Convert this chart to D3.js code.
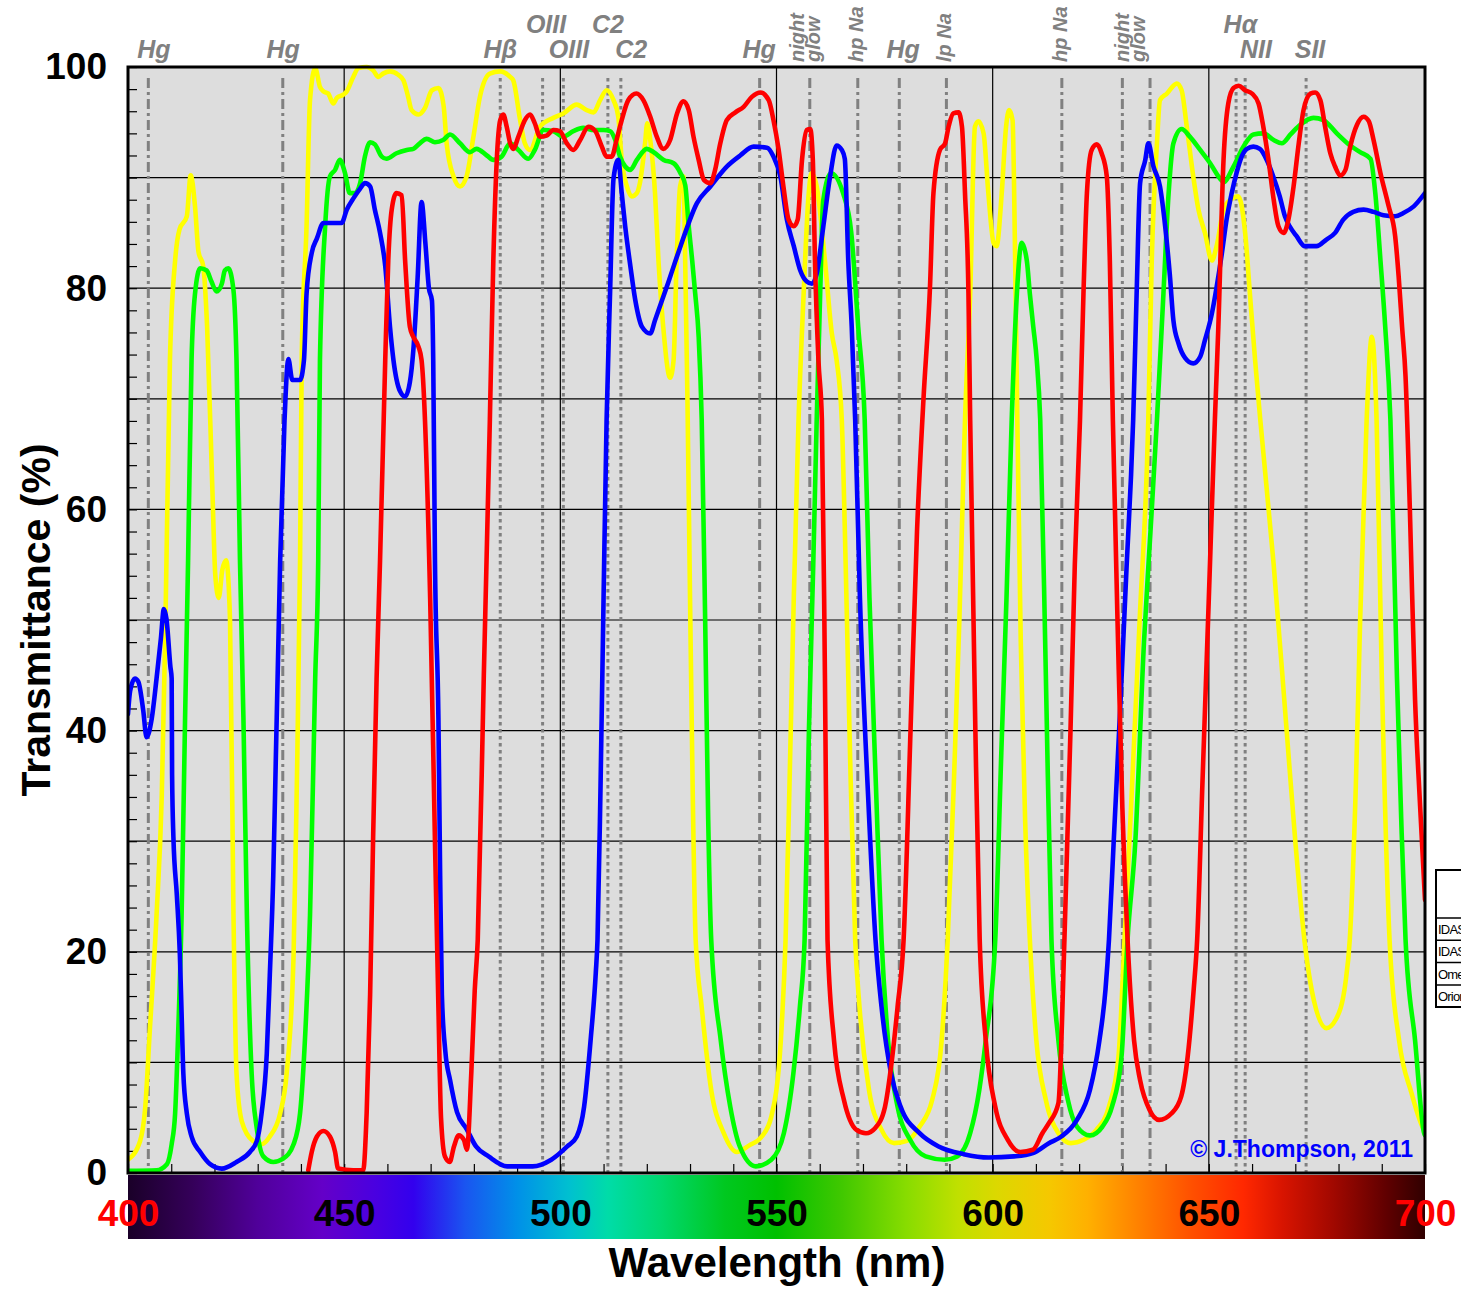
<!DOCTYPE html>
<html>
<head>
<meta charset="utf-8">
<script src="https://cdn.jsdelivr.net/npm/d3@7/dist/d3.min.js"></script>
<style>
  html, body { margin: 0; padding: 0; background: #ffffff; }
  svg { display: block; }
  text { font-family: "Liberation Sans", Arial, Helvetica, sans-serif; }
</style>
</head>
<body>
<svg id="chart" width="1461" height="1289"></svg>
<script>
// ---------------- DATA ----------------
const xTickValues = [400, 450, 500, 550, 600, 650, 700];
const yTickValues = [0, 20, 40, 60, 80, 100];

const legendNames = ["IDAS LPS-P2", "IDAS LPS-V4", "Omega Optical", "Orion SkyGlow"];
const seriesColors = ["#ffff00", "#00ff00", "#0000ff", "#ff0000"];

// [wavelength nm, transmittance %]
const yellowSeries = [[400,1.2],[402.8,2.9],[404,6],[405,12.6],[406.6,23.3],[407.8,34],[408.6,48.3],[409.7,73.5],[410.9,82.5],[411.9,85.3],[413.6,86.5],[414.5,90.2],[415.5,87.4],[416.3,83.3],[417.4,82],[418.3,76.5],[419.5,62],[420.2,54],[421,52],[421.8,54.5],[422.7,55.4],[423.6,50],[424.4,23.3],[425.1,9],[426.3,4.7],[428.9,2.9],[430.9,2.6],[432.8,3.3],[435.2,5.4],[436.7,9],[438.3,19.7],[439,34],[439.8,55.4],[440.2,74.1],[441.3,85.6],[442.1,97],[443.3,99.9],[444.4,98.2],[445.2,97.8],[446.3,97.6],[447.5,96.7],[448.3,97.2],[449.8,97.5],[450.6,97.8],[452.1,99.1],[453.3,99.9],[455.2,100],[456.7,99.7],[457.9,99.1],[459,99.4],[460.6,99.6],[462.5,99.3],[463.7,98.8],[464.8,97.3],[465.6,96.1],[467.2,95.7],[468.7,96.3],[470.3,97.9],[471.8,98.1],[473,96.5],[473.7,93.1],[475.3,90.1],[476.8,89.2],[478.3,90.1],[479.9,93.7],[481.4,97.3],[483.7,99.4],[486.1,99.6],[488.4,99.1],[489.1,98.8],[490.7,95.2],[491.8,93.1],[493,92.5],[495.3,94.6],[498.4,95.4],[500.7,95.8],[503.8,96.6],[506.1,96.1],[507.7,95.9],[509.2,97],[510.7,97.9],[512.3,97],[513.4,95.5],[514.2,91.6],[515.4,89.2],[516.5,88.3],[517.7,88.6],[518.4,89.5],[519.6,93.1],[520.1,94.9],[520.8,93.4],[521.9,88.6],[522.7,82.5],[523.8,76.5],[525.4,71.9],[526.2,73.5],[526.9,82.5],[527.7,89.2],[528.5,90.1],[528.9,82],[529.4,70],[530,52],[530.6,35],[531.3,21.1],[532.7,15],[534.9,7.5],[537.8,3.6],[540.8,1.9],[543.7,2.5],[546.6,3.3],[548.8,5.1],[551,12],[552.1,21.1],[553,35],[554,52],[555.1,68.1],[556.2,78.8],[557.4,88.3],[558.1,90.4],[559.3,89.2],[561.2,82.5],[562.8,75.9],[563.9,73.5],[565.1,68.1],[566,55],[567,38],[568.2,21.1],[569.2,15],[571.4,7.5],[574.3,3.9],[577.2,2.7],[580.2,2.9],[583.1,4.2],[586,6.6],[588.2,12],[589.6,21.1],[591,35],[592.3,50],[593.6,68.1],[594.8,79.5],[595.9,94.6],[596.7,95.1],[597.9,94],[599,88.6],[600.2,84.1],[600.9,83.8],[602.1,88.6],[603.1,94.6],[603.8,96.1],[604.6,95.2],[605.2,82.5],[605.7,68.1],[606.5,48],[607.5,32],[608.6,21.1],[610.1,12],[612.3,6.6],[615.2,3.6],[618.1,2.7],[621,3],[624,3.9],[626.9,6],[629.1,10.5],[630.5,21.1],[632,33],[634,50],[636,68.1],[636.8,82.5],[638,93.1],[638.7,97],[640.3,97.6],[642.6,98.5],[643.7,97.9],[644.9,94.6],[646.4,90.1],[647.6,87.1],[649.1,85],[650.7,82.5],[651.8,83.8],[653.4,87.1],[655,88],[656.8,88.3],[658.4,85],[659.5,79.5],[660.7,73.5],[661.9,68.1],[665,55],[668,40],[670,30],[672.1,21.1],[674.3,15.6],[677.2,13.1],[679.4,13.9],[681.6,17.2],[682.6,21.1],[684,35],[685,50],[686.5,68.1],[687.7,75.6],[688.8,68.1],[690,45],[691.8,21.1],[694,12],[696.9,7.2],[699.8,3.9],[700,3.8]];

const greenSeries = [[400,0.2],[406.6,0.25],[409,0.8],[410.1,2.6],[410.9,5.4],[411.6,12.6],[412.4,23.3],[413.2,41.1],[413.9,55.4],[414.7,73.5],[415.5,79.5],[416.7,81.8],[418.2,81.6],[419.3,80.6],[420.5,79.7],[421.7,80.4],[422.4,81.6],[423.2,81.8],[424.4,79.8],[425.1,73.5],[425.9,55.4],[426.7,41.1],[427.5,23.3],[428.6,9],[429.8,4],[431.3,1.5],[433.6,1],[435.9,1.3],[438.3,2.6],[439.8,5.4],[441,12.6],[442.1,23.3],[443.3,44.7],[444,55.4],[444.4,73.5],[445.6,85.6],[446.7,90.1],[447.9,90.7],[449,91.6],[450.2,90.4],[451.3,88.6],[452.5,88.6],[453.7,89.5],[454.8,91.9],[456,93.2],[457.1,93],[458.7,91.9],[459.8,91.7],[462.1,92.2],[464.5,92.5],[466,92.6],[467.5,93.1],[469.1,93.5],[471,93.2],[472.9,93.4],[474.5,93.9],[476.8,93.1],[479.1,92.3],[480.6,92.6],[483,92],[484.5,91.6],[486.4,91.9],[488.4,93.1],[490.3,92.5],[492.6,91.7],[494.1,92.5],[496.1,94.3],[498.4,94.2],[500.7,93.7],[503,94.2],[505.3,94.5],[507.7,94.3],[510,94.3],[511.5,94.2],[512.7,93.4],[513.8,91.9],[515,91],[516.2,90.7],[517.7,91.6],[520,92.6],[521.6,92.3],[523.9,91.6],[526.2,91.3],[527.8,90.4],[528.9,89.3],[529.7,85.6],[530.5,82.5],[531.2,79.5],[532,75.6],[532.7,68.1],[533.5,50],[534.2,32],[534.9,21.1],[537.1,12],[539.3,6],[541.5,2.4],[545.2,0.6],[548.8,1.2],[551.7,3.6],[553.9,9],[555.4,15],[556.5,21.1],[557.5,40],[558.5,55],[559.3,68.1],[560.1,79.5],[560.8,87.9],[562.6,90.4],[565.4,88.6],[567.3,85],[568.9,76.5],[570.4,68.1],[571.5,52],[573,35],[574.3,21.1],[575.8,12],[578,6],[580.9,3],[584.5,1.5],[588.9,1.2],[591.8,1.5],[594.8,3.6],[596.9,7.5],[598.4,12],[600.6,21.1],[602,38],[603.2,52],[604.4,68.1],[605.6,79.5],[606.7,84.1],[607.9,82.5],[608.6,79.5],[609.4,76.5],[610.2,73.5],[611,68.1],[612.3,45],[613.6,21.1],[615.2,12],[617.4,6.6],[619.5,4.2],[622.5,3.4],[625.4,4.2],[627.6,6],[629.8,10.5],[631.2,21.1],[633,30],[635,48],[636.5,58],[638,68.1],[639.5,79.5],[640.7,88.6],[641.8,93.1],[643.7,94.4],[645.6,93.7],[648,92.5],[650.3,91.3],[652.6,89.9],[653.4,89.6],[655.7,91],[658,92.8],[660.3,93.9],[662.6,94],[665,93.4],[666.9,93.1],[668.9,93.9],[671.2,94.8],[674.2,95.4],[676.5,95.2],[679.6,94],[682.7,92.9],[685,92.3],[687.4,91.7],[688.5,88.6],[689.7,82.5],[690.8,76.5],[692,68.1],[693.5,45],[694.5,32],[695.5,21.1],[697.7,12],[699.8,3.6],[700,3.4]];

const blueSeries = [[400,41.5],[400.5,43.6],[401.6,44.7],[402.4,44.4],[403.5,41.9],[404.3,39.4],[405.5,41.1],[406.6,44.7],[407.6,48.3],[408.3,51],[408.9,50.1],[409.8,45.8],[410.1,44.7],[410.2,36],[410.5,30.4],[411.3,25.1],[412,19.7],[412.4,14.4],[412.8,9],[413.6,5.4],[414.7,3.3],[416.7,1.9],[419,0.8],[421.7,0.4],[425.1,1],[428.2,1.9],[429.8,2.9],[430.9,5.4],[432.1,10.8],[432.8,17.9],[433.6,26.9],[434.2,37.6],[434.8,48.3],[435.2,55.4],[436.2,68],[437.1,73.6],[438,71.7],[439.8,71.7],[440.7,73.5],[441.3,79.5],[442.5,83.2],[443.7,84.5],[445.2,85.9],[447.5,85.9],[449.4,85.9],[450.6,87.1],[452.1,88.1],[453.7,89],[454.8,89.5],[456,89.2],[457.1,87.1],[458.3,85],[459.5,82],[460.6,76.5],[461.4,73.5],[462.9,70.7],[464.1,70.2],[465.2,71.5],[466,74.4],[467,81],[467.9,87.8],[468.8,84],[469.6,80],[470.3,78.9],[470.6,73.5],[471,55.4],[471.8,41.1],[472.2,26.9],[472.6,16.1],[473.4,11],[474.5,8.4],[476.1,5.5],[478.3,4],[480.5,2.4],[483.4,1.5],[487.7,0.6],[493.6,0.6],[497.9,1.2],[501.6,2.4],[503.8,3.3],[505.5,6],[507,12],[508.2,18.1],[508.6,21.1],[509.3,35],[510,52],[510.7,68.1],[511.5,79.5],[512.3,89.9],[513.4,91.6],[514.2,88.6],[515,85.6],[516.2,82],[517.3,79],[518.9,76.5],[520.8,75.9],[521.9,77.1],[524.6,80.1],[527.8,83.8],[531.6,87.7],[534.7,89.2],[538.5,91],[541.6,92],[544.7,92.8],[547.8,92.7],[549.3,91.9],[550.9,90.1],[552.4,86.2],[554,83.8],[555.5,81.6],[557,80.6],[558.2,80.4],[559.3,81.3],[560.8,85.5],[562.4,90.1],[563.9,92.9],[565.1,92.5],[565.8,91.7],[566.6,82.5],[567.4,76.5],[568.2,68.1],[569.3,52],[571.2,34],[572.9,21.1],[574.3,15],[576.5,9],[578.7,6],[583.1,3.6],[587.5,2.4],[593.3,1.7],[599.1,1.4],[604.9,1.5],[609.3,1.8],[613,2.7],[615.9,3.3],[619.5,4.8],[622.5,7.5],[624.7,12],[626.1,16.6],[626.9,21.1],[628,30],[629.5,42],[631,55],[632,63],[632.5,68.1],[633.3,79.5],[634.1,89.5],[635.3,91.6],[636,93.1],[637.2,91],[638.7,89.2],[639.9,85.6],[641,81.1],[641.8,77.1],[643,75],[644.5,73.7],[646.4,73.2],[648,73.8],[649.1,75.3],[650.7,77.7],[651.8,80.1],[653,83.1],[654.1,86.2],[655.3,88.6],[656.4,90.4],[657.6,91.9],[658.8,92.6],[660.3,92.8],[661.8,92.6],[663.4,91.6],[664.9,90.1],[666.4,88.3],[667.6,86.5],[668.7,85.6],[670.3,84.7],[672.2,83.8],[674.9,83.8],[677.2,84.4],[679.2,85],[681.1,86.2],[683.4,86.9],[685.8,87.1],[688.1,86.9],[690.4,86.6],[693.1,86.5],[695,86.8],[697.4,87.4],[700,88.6]];

const redSeries = [[441.7,0.25],[442.5,1.9],[443.7,3.3],[445.2,3.8],[446.7,3.3],[447.9,1.9],[448.6,0.4],[452.1,0.25],[454.4,0.25],[455.2,5.4],[456,16.1],[456.7,30.4],[457.5,44.7],[458.3,55.4],[459.5,73.5],[460.2,82.5],[461,87.1],[462.1,88.6],[463.3,88.4],[464.1,82.5],[465.2,76.5],[466,75.6],[467.2,74.7],[467.9,73.5],[469.9,51.8],[471,30],[471.8,15],[472.4,5],[473.3,1.5],[474.4,1],[475.4,2.4],[476.5,3.4],[477.7,3],[478.4,2.1],[479.4,9],[480.2,16.5],[480.9,21.1],[482.3,45],[483.7,68.1],[484.5,82.5],[485.3,91.6],[486.1,95.2],[486.8,95.7],[487.6,94.6],[488.4,93.1],[489.1,92.6],[490.3,93.7],[491.8,95.2],[493,95.7],[494.1,94.9],[495.3,93.7],[496.8,93.8],[498.4,94.3],[499.9,94.2],[501.5,93.1],[503,92.5],[504.6,93.4],[506.5,94.6],[508.1,94.2],[509.6,92.8],[510.7,91.9],[511.9,91.9],[513,93.4],[514.2,95.2],[515.7,97],[517.6,97.6],[519.2,97],[520.8,95.5],[522.3,93.7],[523.8,92.6],[525.4,93.4],[527,95.8],[528.5,96.9],[529.7,96.1],[530.8,93.7],[532,91.6],[533.2,89.8],[534.7,89.5],[535.8,90.7],[537,93.1],[538.5,95.2],[540.5,95.9],[542.4,96.4],[544.3,97.3],[546.3,97.7],[548.2,97],[549.3,95.2],[550.5,92.5],[551.6,89.2],[552.8,86.2],[554,85.6],[554.9,86.2],[555.9,91.6],[557,94.3],[557.8,94.4],[558.4,91.6],[558.9,82.5],[559.7,73.5],[560.5,68.1],[561.2,45],[561.8,21.1],[563.3,12],[565.6,6.6],[568.5,3.9],[570.7,3.6],[572.9,4.1],[575.1,6],[576.5,9.6],[578,15],[579.4,21.1],[581,40],[582.5,58],[584,70],[585.5,80.1],[586.3,88.6],[587.8,92.5],[589,93.1],[589.8,94.6],[590.9,95.8],[592.1,95.9],[592.9,94.6],[593.6,88.6],[594.4,79.5],[594.8,68.1],[596,40],[597,21.1],[598.4,12],[600.6,6],[603.5,3],[606.4,1.9],[609.3,2.1],[611.5,3.6],[613,4.5],[615.2,6.3],[616.6,21.1],[618,40],[619,55],[620.2,68.1],[621,79.5],[621.8,88.6],[622.9,92.5],[624.1,93],[625.2,92.2],[626.4,90.1],[627.1,82.5],[627.8,68.1],[629,48],[630,33],[631.2,21.1],[632.7,12],[634.1,8.4],[636.3,5.7],[638.5,4.8],[641.4,5.4],[643.6,6.9],[645.1,10.5],[646.5,16.6],[647.3,21.1],[648.5,35],[650,52],[651.4,68.1],[652.2,76.5],[653.4,91.6],[654.5,96.7],[655.7,98.1],[656.9,98.3],[658.4,97.9],[660,97.6],[661.5,96.7],[662.6,94.6],[663.8,91.6],[665,88],[666.1,85.6],[667.3,85],[668.4,86.2],[669.6,89.2],[670.8,93.1],[671.9,96.1],[673.5,97.6],[674.6,97.7],[675.8,97],[676.9,94.6],[678.1,92.2],[679.2,91],[680.4,90.2],[681.6,90.7],[682.7,92.8],[684.3,94.8],[685.8,95.5],[687,95.1],[688.1,93.4],[689.7,90.4],[691.6,87.4],[693.1,84.7],[693.9,81.1],[694.7,76.5],[695.5,72],[696.5,60],[697.7,42.8],[698.8,33.7],[700,24.7]];

// emission / pollution lines: wavelength and kind
const emissionLines = [
  [404.7,"pollution"],[435.8,"pollution"],[486.1,"nebula"],[495.9,"nebula"],[500.7,"nebula"],
  [511.0,"nebula"],[514.0,"nebula"],[546.1,"pollution"],[557.7,"pollution"],[568.8,"pollution"],
  [578.4,"pollution"],[589.3,"pollution"],[616.0,"pollution"],[630.0,"pollution"],[636.4,"pollution"],
  [656.3,"nebula"],[658.4,"nebula"],[672.5,"nebula"]
];
// horizontal labels: text, wavelength centre, row (0 upper, 1 lower)
const lineLabels = [
  ["Hg",406.0,1],["Hg",435.9,1],["Hβ",486.1,1],["OIII",496.7,0],["C2",511.0,0],
  ["OIII",502.0,1],["C2",516.4,1],["Hg",546.0,1],["Hg",579.3,1],
  ["Hα",657.3,0],["NII",660.9,1],["SII",673.4,1]
];
// rotated labels: text lines, wavelength
const rotatedLabels = [
  [["night","glow"],557.3],[["hp Na"],568.8],[["lp Na"],589.3],[["hp Na"],616.0],[["night","glow"],632.5]
];
// colour bar stops: wavelength, colour
const spectrumStops = [
  [400,"#1a0028"],[415,"#35005a"],[430,"#50009a"],[445,"#6400c8"],[457,"#4a00e0"],[466,"#3300ee"],
  [478,"#1a55f0"],[490,"#0090e8"],[502,"#00c0d0"],[511,"#00dca8"],[523,"#00d870"],[538,"#00c820"],
  [550,"#00c000"],[565,"#40c800"],[580,"#88dc00"],[592,"#c0e000"],[601,"#dcd800"],[613,"#f5c800"],
  [622,"#ffb000"],[634,"#ff8000"],[646,"#ff5000"],[658,"#ff2800"],[667,"#d81400"],[679,"#a00800"],
  [691,"#600000"],[700,"#300000"]
];

// ---------------- CHART ----------------
const svg = d3.select("#chart");
const L = 128, R = 1425, T = 67, B = 1173;
const x = d3.scaleLinear().domain([400, 700]).range([L, R]);
const y = d3.scaleLinear().domain([0, 100]).range([B, T]);

// plot background
svg.append("rect").attr("x", L).attr("y", T).attr("width", R - L).attr("height", B - T).attr("fill", "#dddddd");

// gridlines
svg.append("g").selectAll("line").data(d3.range(10, 100, 10)).join("line")
  .attr("x1", L).attr("x2", R).attr("y1", d => y(d)).attr("y2", d => y(d))
  .attr("stroke", "#000").attr("stroke-width", 1.2);
svg.append("g").selectAll("line").data(d3.range(450, 700, 50)).join("line")
  .attr("x1", d => x(d)).attr("x2", d => x(d)).attr("y1", T).attr("y2", B)
  .attr("stroke", "#000").attr("stroke-width", 1.2);

// minor ticks
svg.append("g").attr("transform", `translate(${L},0)`)
  .call(d3.axisLeft(y).tickValues(d3.range(0, 101, 2)).tickSize(-9).tickFormat(""))
  .call(g => g.select(".domain").remove())
  .call(g => g.selectAll("line").attr("stroke", "#000").attr("stroke-width", 1.2));
svg.append("g").attr("transform", `translate(0,${B})`)
  .call(d3.axisBottom(x).tickValues(d3.range(400, 701, 10)).tickSize(-9).tickFormat(""))
  .call(g => g.select(".domain").remove())
  .call(g => g.selectAll("line").attr("stroke", "#000").attr("stroke-width", 1.2));

// emission lines
const dashFor = { pollution: "10,4,3,4", nebula: "3.5,3.5" };
svg.append("g").selectAll("line").data(emissionLines).join("line")
  .attr("x1", d => x(d[0])).attr("x2", d => x(d[0]))
  .attr("y1", y(99)).attr("y2", B)
  .attr("stroke", "#808080").attr("stroke-width", 3)
  .attr("stroke-dasharray", d => dashFor[d[1]]);

// curves
svg.append("clipPath").attr("id", "plotclip").append("rect")
  .attr("x", L).attr("y", T - 3).attr("width", R - L).attr("height", B - T + 3);
const lineGen = d3.line().x(d => x(d[0])).y(d => y(d[1])).curve(d3.curveMonotoneX);
const allSeries = [yellowSeries, greenSeries, blueSeries, redSeries];
svg.append("g").attr("clip-path", "url(#plotclip)")
  .selectAll("path").data(allSeries).join("path")
  .attr("d", d => lineGen(d))
  .attr("fill", "none")
  .attr("stroke", (d, i) => seriesColors[i])
  .attr("stroke-width", 4.6)
  .attr("stroke-linejoin", "round")
  .attr("stroke-linecap", "round");

// plot frame
svg.append("rect").attr("x", L).attr("y", T).attr("width", R - L).attr("height", B - T)
  .attr("fill", "none").attr("stroke", "#000").attr("stroke-width", 3);

// spectrum colour bar
const grad = svg.append("defs").append("linearGradient").attr("id", "spec")
  .attr("x1", "0%").attr("x2", "100%").attr("y1", "0%").attr("y2", "0%");
grad.selectAll("stop").data(spectrumStops).join("stop")
  .attr("offset", d => ((d[0] - 400) / 300 * 100) + "%")
  .attr("stop-color", d => d[1]);
svg.append("rect").attr("x", L).attr("y", B + 2).attr("width", R - L).attr("height", 64)
  .attr("fill", "url(#spec)");

// axis labels
svg.append("g").attr("transform", `translate(${L},0)`)
  .call(d3.axisLeft(y).tickValues(yTickValues).tickSize(0).tickPadding(21).tickFormat(d3.format("d")))
  .call(g => g.select(".domain").remove())
  .call(g => g.selectAll("text").attr("font-size", 37).attr("font-weight", "bold")
    .attr("font-family", "'Liberation Sans', Arial, sans-serif").attr("fill", "#000"));
svg.append("g").attr("transform", `translate(0,${B})`)
  .call(d3.axisBottom(x).tickValues(xTickValues).tickSize(0).tickPadding(27).tickFormat(d3.format("d")))
  .call(g => g.select(".domain").remove())
  .call(g => g.selectAll("text").attr("font-size", 37).attr("font-weight", "bold")
    .attr("font-family", "'Liberation Sans', Arial, sans-serif")
    .attr("fill", d => (d === 400 || d === 700) ? "#ff0000" : "#000"));

// axis titles
svg.append("text").attr("transform", "translate(50,620) rotate(-90)")
  .attr("text-anchor", "middle").attr("font-size", 41).attr("font-weight", "bold")
  .text("Transmittance (%)");
svg.append("text").attr("x", 777).attr("y", 1277)
  .attr("text-anchor", "middle").attr("font-size", 42).attr("font-weight", "bold")
  .text("Wavelength (nm)");

// line labels
svg.append("g").selectAll("text").data(lineLabels).join("text")
  .attr("x", d => x(d[1])).attr("y", d => d[2] === 0 ? 33 : 58)
  .attr("text-anchor", "middle").attr("font-size", 25).attr("font-weight", "bold")
  .attr("font-style", "italic").attr("fill", "#808080")
  .text(d => d[0]);
const rot = svg.append("g").selectAll("g").data(rotatedLabels).join("g")
  .attr("transform", d => `translate(${x(d[1])},62) rotate(-90)`);
rot.each(function(d) {
  const g = d3.select(this);
  const n = d[0].length;
  d[0].forEach((t, i) => {
    const off = n === 1 ? 5 : (i === 0 ? -4 : 12);
    g.append("text").attr("x", 0).attr("y", off)
      .attr("font-size", 20).attr("font-weight", "bold").attr("font-style", "italic")
      .attr("fill", "#808080").text(t);
  });
});

// copyright
svg.append("text").attr("x", 1413).attr("y", 1157).attr("text-anchor", "end")
  .attr("font-size", 23).attr("font-weight", "bold").attr("fill", "#0000ff")
  .text("© J.Thompson, 2011");

// legend (mostly outside the window on the right)
const lg = svg.append("g").attr("transform", "translate(1436,870)");
lg.append("rect").attr("x", 0).attr("y", 0).attr("width", 220).attr("height", 137)
  .attr("fill", "#fff").attr("stroke", "#000").attr("stroke-width", 2);
lg.selectAll("line.sep").data(legendNames).join("line").attr("class", "sep")
  .attr("x1", 0).attr("x2", 220).attr("y1", (d, i) => 48 + i * 22.3).attr("y2", (d, i) => 48 + i * 22.3)
  .attr("stroke", "#000").attr("stroke-width", 1.5);
lg.selectAll("text.name").data(legendNames).join("text").attr("class", "name")
  .attr("x", 2).attr("y", (d, i) => 64 + i * 22.3)
  .attr("font-size", 13).attr("letter-spacing", -0.8).attr("fill", "#000")
  .text(d => d);
</script>
</body>
</html>
